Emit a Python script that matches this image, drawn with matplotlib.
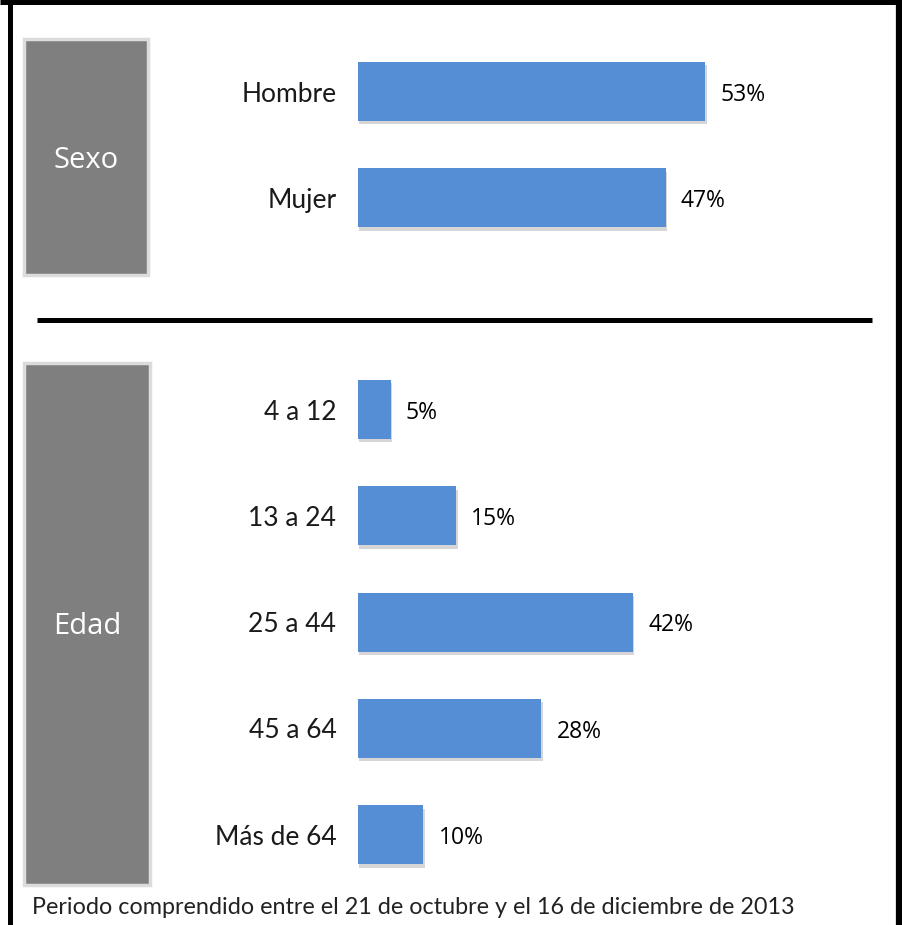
import matplotlib
matplotlib.use("Agg")
import matplotlib.pyplot as plt
import matplotlib.patheffects as pe
from matplotlib.patches import Rectangle
from matplotlib.lines import Line2D

W, H = 903, 925

sexo_labels = ["Hombre", "Mujer"]
sexo_values = [53, 47]
edad_labels = ["4 a 12", "13 a 24", "25 a 44", "45 a 64", "Más de 64"]
edad_values = [5, 15, 42, 28, 10]
footer = "Periodo comprendido entre el 21 de octubre y el 16 de diciembre de 2013"

bar_color = "#558ED5"
box_gray = "#7F7F7F"
box_edge = "#DCDCDC"
px_per_pct = 6.55
step = 106.3

fig = plt.figure(figsize=(W / 100, H / 100), dpi=100)
fig.patch.set_facecolor("white")


def fx(x):
    return x / W


def fy(y):
    return 1 - y / H


def bar_axes(labels, values, first_center):
    n = len(labels)
    top = first_center - step / 2
    bottom = first_center + step * (n - 0.5)
    left, right = 358, 893
    ax = fig.add_axes([fx(left), fy(bottom), fx(right - left), (bottom - top) / H])
    ys = list(range(n))
    bars = ax.barh(ys, values, height=59 / step, color=bar_color)
    for b in bars:
        b.set_path_effects([pe.SimplePatchShadow(offset=(1, -2.5), shadow_rgbFace="#999999", alpha=0.4), pe.Normal()])
    for y, v in zip(ys, values):
        ax.text(v + 15 / px_per_pct, y + 0.03, f"{v}%", va="center", ha="left",
                fontsize=16.5, family="Open Sans", color="black")
    ax.set_xlim(0, (right - left) / px_per_pct)
    ax.set_ylim(n - 0.5, -0.5)
    ax.set_yticks(ys)
    ax.set_yticklabels(labels, fontsize=19, family="Lato", fontweight="normal",
                       color="#1a1a1a")
    ax.tick_params(axis="y", length=0, pad=15.5)
    ax.set_xticks([])
    for s in ax.spines.values():
        s.set_visible(False)
    ax.patch.set_alpha(0)
    return ax


bar_axes(sexo_labels, sexo_values, 91.5)
bar_axes(edad_labels, edad_values, 409.5)


def side_box(x0, y0, x1, y1, text, yc):
    fig.patches.append(Rectangle((fx(x0), fy(y1)), fx(x1 - x0), (y1 - y0) / H,
                                 transform=fig.transFigure, facecolor=box_gray,
                                 edgecolor=box_edge, linewidth=2.5))
    fig.text(fx((x0 + x1) / 2), fy(yc), text, color="white", fontsize=21,
             family="Open Sans", ha="center", va="center")


side_box(24, 39, 148, 275, "Sexo", 160)
side_box(24, 363, 150, 885, "Edad", 627)

# separator line
fig.lines.append(Line2D([fx(37), fx(872)], [fy(320), fy(320)], transform=fig.transFigure,
                        color="black", linewidth=3.6, solid_capstyle="butt"))

# outer frame (open at the bottom)
fig.lines.append(Line2D([fx(10.5), fx(10.5)], [0, 1], transform=fig.transFigure,
                        color="black", linewidth=3.6, solid_capstyle="butt"))
fig.lines.append(Line2D([fx(899.5), fx(899.5)], [0, 1], transform=fig.transFigure,
                        color="black", linewidth=4.5, solid_capstyle="butt"))
fig.lines.append(Line2D([0, 1], [fy(2), fy(2)], transform=fig.transFigure,
                        color="black", linewidth=3.6, solid_capstyle="butt"))

fig.text(fx(32), fy(908), footer, fontsize=16.8, family="Lato", fontweight="normal",
         color="#222222", ha="left", va="center")

fig.savefig("out.png", dpi=100)
